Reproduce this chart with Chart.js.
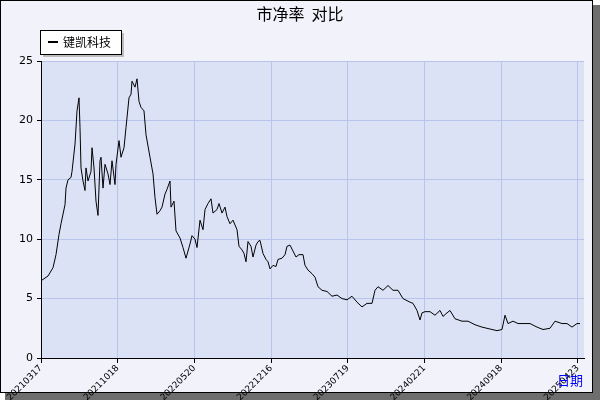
<!DOCTYPE html>
<html><head><meta charset="utf-8">
<script src="https://cdn.jsdelivr.net/npm/chart.js@4"></script>
<style>body{margin:0;background:#fff}#w{width:600px;height:400px}</style>
</head><body><div id="w"><canvas id="c" width="600" height="400"></canvas></div>
<script>
const tickDates = ['20210317','20211018','20220520','20221216','20230719','20240221','20240918','20250423'];
const seriesName = '键凯科技';
const xPos = [41,48,53,56,59,61,65,66,68,71,72,75,77,79,80,81,83,85,86,88,91,92,94,96,98,100,101,103,105,108,110,112,115,116,119,121,124,126,129,131,132,135,137,139,141,144,146,150,153,155,157,160,162,165,167,170,171,174,176,180,183,186,190,192,195,197,
200,203,205,208,211,213,217,219,222,225,227,230,233,237,239,242,244,246,248,251,253,256,258,260,263,266,268,270,273,276,278,282,285,287,290,293,296,299,303,305,308,312,315,318,322,327,332,337,342,347,352,357,362,367,372,375,378,383,388,
393,398,403,410,413,417,420,422,425,430,435,440,443,447,450,455,462,468,475,482,487,492,497,502,505,508,513,518,523,530,537,543,550,555,562,567,572,577,580];
const pbValues = [6.5,6.9,7.6,8.7,10.4,11.3,12.9,14.3,15.0,15.2,15.7,18.0,20.8,21.9,19.4,16.0,14.9,14.1,16.0,14.9,15.7,17.7,16.0,13.2,12.0,16.6,16.9,14.3,16.3,15.5,14.6,16.6,14.6,16.3,18.3,16.9,17.7,19.4,21.9,22.2,23.3,22.8,23.5,21.6,21.1,20.8,18.8,16.9,15.5,13.5,12.1,12.4,12.7,13.8,14.2,14.9,12.7,13.2,10.7,10.1,9.3,8.4,9.6,10.3,10.0,9.3,
11.6,10.8,12.5,13.0,13.4,12.2,12.5,13.0,12.2,12.7,11.9,11.3,11.6,10.8,9.4,9.1,8.8,8.1,9.8,9.4,8.5,9.5,9.8,9.9,8.8,8.3,8.1,7.5,7.8,7.7,8.3,8.4,8.7,9.4,9.5,9.0,8.5,8.7,8.7,7.8,7.4,7.1,6.8,6.0,5.7,5.6,5.2,5.3,5.0,4.9,5.2,4.7,4.3,4.6,4.6,5.7,6.0,5.7,6.1,
5.7,5.7,5.0,4.7,4.6,4.0,3.2,3.8,3.9,3.9,3.6,4.0,3.5,3.8,4.0,3.3,3.1,3.1,2.8,2.6,2.5,2.4,2.3,2.4,3.6,2.9,3.1,2.9,2.9,2.9,2.6,2.4,2.5,3.1,2.9,2.9,2.6,2.9,2.9];
const yTicks = [0,5,10,15,20,25];

const X0=41, STEP=76.7;
const frame = {
  id:'frame',
  beforeDraw(c){
    const g=c.ctx; g.save();
    g.fillStyle='#ffffff'; g.fillRect(0,0,600,400);
    g.fillStyle='#6e6e6e'; g.fillRect(5,5,595,395);
    g.fillStyle='#f2f2fa'; g.fillRect(0,0,593,393);
    g.strokeStyle='#000'; g.lineWidth=1; g.strokeRect(0.5,0.5,592,392);
    const a=c.chartArea;
    g.fillStyle='#dce2f6'; g.fillRect(a.left,a.top,a.right-a.left,a.bottom-a.top);
    g.fillStyle='#000'; g.font='16px "Noto Sans CJK SC"'; g.textAlign='center'; g.textBaseline='middle';
    g.fillText('市净率  对比',300,14);
    g.fillStyle='#bcbcbc'; g.fillRect(43,33,81,24);
    g.fillStyle='#fff'; g.fillRect(40,30,81,24);
    g.strokeStyle='#000'; g.strokeRect(40.5,30.5,81,24);
    g.fillStyle='#000'; g.fillRect(48,41,10,2);
    g.font='12px "Noto Sans CJK SC"'; g.textAlign='left'; g.fillText(seriesName,63,42);
    g.restore();
  },
  afterDraw(c){
    const g=c.ctx; g.save();
    g.fillStyle='#0000ff'; g.font='13px "Noto Sans CJK SC"'; g.textAlign='left'; g.textBaseline='middle';
    g.fillText('日期',557,380);
    g.restore();
  }
};
new Chart(document.getElementById('c'),{
  type:'line',
  data:{datasets:[{label:seriesName,data:xPos.map((x,i)=>({x,y:pbValues[i]})),borderColor:'#000',borderWidth:1,pointRadius:0,tension:0}]},
  options:{
    responsive:false,animation:false,
    layout:{padding:{left:0,right:16,top:61,bottom:0}},
    plugins:{legend:{display:false},title:{display:false},tooltip:{enabled:false}},
    scales:{
      x:{type:'linear',min:41,max:584,
        afterFit(s){s.height=42;},
        afterBuildTicks(s){s.ticks=tickDates.map((d,i)=>({value:X0+STEP*i}));},
        grid:{color:'#b8c4ea',tickColor:'#000',tickLength:5,drawTicks:true},
        border:{color:'#000'},
        ticks:{autoSkip:false,maxRotation:45,minRotation:45,color:'#000',font:{size:9,family:'DejaVu Sans'},padding:0,
          callback(v,i){return tickDates[i];}}
      },
      y:{min:0,max:25,
        afterFit(s){s.width=41;},
        afterBuildTicks(s){s.ticks=yTicks.map(v=>({value:v}));},
        grid:{color:'#b8c4ea',tickColor:'#000',tickLength:4},
        border:{color:'#000'},
        ticks:{color:'#000',font:{size:11,family:'DejaVu Sans'},padding:4}
      }
    }
  },
  plugins:[frame]
});
</script></body></html>
